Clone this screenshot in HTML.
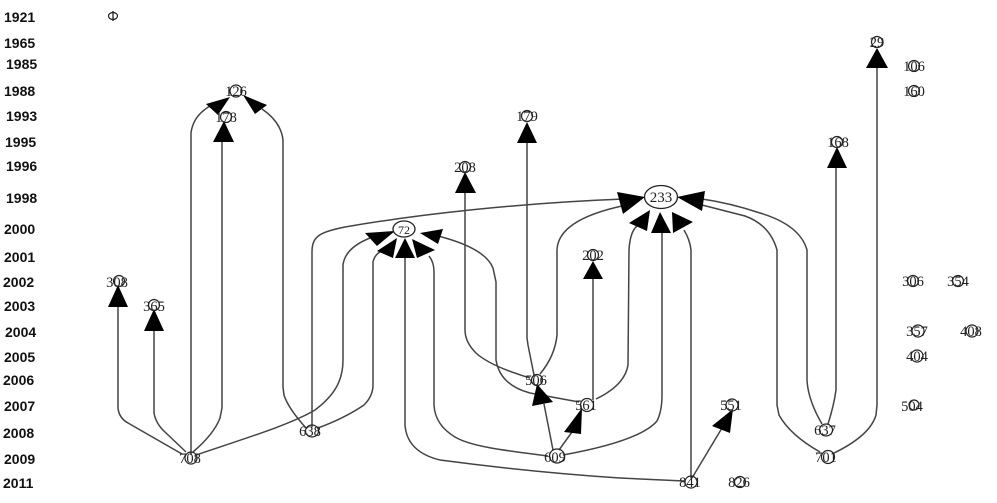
<!DOCTYPE html>
<html><head><meta charset="utf-8"><style>
html,body{margin:0;padding:0;background:#fff;}
svg{display:block;}
.yr{font-family:"Liberation Sans",Arial,sans-serif;font-weight:bold;font-size:14px;fill:#111;}
.lb{font-family:"Liberation Serif","Times New Roman",serif;font-size:14.5px;fill:#222;text-anchor:middle;}
.e{fill:none;stroke:#444;stroke-width:1.5;}
.a{fill:#000;stroke:none;}
.n{fill:none;stroke:#222;stroke-width:1.2;}
</style></head><body>
<svg width="997" height="503" viewBox="0 0 997 503" xmlns="http://www.w3.org/2000/svg">
<!-- year labels -->
<text class="yr" x="4" y="22">1921</text>
<text class="yr" x="4" y="48">1965</text>
<text class="yr" x="6" y="69">1985</text>
<text class="yr" x="4" y="96">1988</text>
<text class="yr" x="6" y="121">1993</text>
<text class="yr" x="5" y="147">1995</text>
<text class="yr" x="6" y="171">1996</text>
<text class="yr" x="6" y="203">1998</text>
<text class="yr" x="4" y="234">2000</text>
<text class="yr" x="4" y="262">2001</text>
<text class="yr" x="3" y="287">2002</text>
<text class="yr" x="4" y="311">2003</text>
<text class="yr" x="5" y="337">2004</text>
<text class="yr" x="4" y="362">2005</text>
<text class="yr" x="3" y="385">2006</text>
<text class="yr" x="4" y="411">2007</text>
<text class="yr" x="3" y="438">2008</text>
<text class="yr" x="4" y="464">2009</text>
<text class="yr" x="3" y="488">2011</text>

<!-- edges -->
<path class="e" d="M182 454 L128 423 Q119 418 118 408 L118 306"/>
<polygon class="a" points="118,285 108,307 128,307"/>
<path class="e" d="M186 452 L165 432 Q156 424 154 413 L154 330"/>
<polygon class="a" points="154,309 144,331 164,331"/>
<path class="e" d="M191 455 L191 133 Q193 116 210 106"/>
<polygon class="a" points="230,97 206,104 218,115"/>
<path class="e" d="M193 452 Q214 434 220 418 L222 408 L222 141"/>
<polygon class="a" points="224,121 213,142 234,142"/>
<path class="e" d="M306 428 Q288 408 284 395 L283 387 L283 140 Q281 122 262 109"/>
<polygon class="a" points="243,95 267,105 255,114"/>
<path class="e" d="M312 427 L312 252 C312 236 320 232 345 227 C420 214 520 203 624 199"/>
<path class="e" d="M196 455 C240 440 290 425 315 410 C335 395 343 380 343 360 L343 265 Q345 248 370 238"/>
<path class="e" d="M318 428 Q345 418 364 405 Q373 396 373 385 L373 262 Q375 253 384 250"/>
<path class="e" d="M684 481 L620 478 C560 474 500 468 440 460 Q407 452 405 425 L405 257"/>
<path class="e" d="M548 456 C500 450 470 446 455 437 Q435 425 434 405 L434 272 Q434 262 429 256"/>
<path class="e" d="M438 236 Q485 248 493 268 L496 282 L496 360 Q500 385 530 393 L579 402"/>
<polygon class="a" points="395,231 365,233 377,246"/>
<polygon class="a" points="397,238 377,251 393,258"/>
<polygon class="a" points="405,238 395,258 415,258"/>
<polygon class="a" points="412,239 417,258 435,250"/>
<polygon class="a" points="420,233 443,229 438,244"/>
<path class="e" d="M530 378 Q490 366 476 353 Q465 342 465 330 L465 191"/>
<polygon class="a" points="465,172 455,193 476,193"/>
<path class="e" d="M534 375 L528 345 L527 338 L527 141"/>
<polygon class="a" points="527,122 517,143 537,143"/>
<path class="e" d="M540 374 Q555 356 557 335 L557 250 Q558 220 622 206"/>
<path class="e" d="M593 400 L593 277"/>
<polygon class="a" points="593,261 583,279 603,279"/>
<path class="e" d="M596 399 Q625 385 628 365 L629 250 Q630 232 637 226"/>
<path class="e" d="M563 455 Q640 441 657 421 Q662 411 662 395 L662 231"/>
<path class="e" d="M691 478 L691 250 Q690 240 684 230"/>
<path class="e" d="M822 424 Q808 400 807 380 L807 250 Q800 225 760 213 Q730 203 702 199"/>
<path class="e" d="M820 452 Q790 435 779 415 L777 405 L777 250 Q770 225 745 216 L702 205"/>
<polygon class="a" points="645,197 617,192 623,214"/>
<polygon class="a" points="650,210 629,223 647,231"/>
<polygon class="a" points="660,212 651,233 671,233"/>
<polygon class="a" points="672,212 673,233 693,222"/>
<polygon class="a" points="677,197 705,191 702,211"/>
<path class="e" d="M828 424 Q834 405 836 390 L836 166"/>
<polygon class="a" points="837,147 827,168 847,168"/>
<path class="e" d="M832 454 Q870 436 876 415 L877 405 L877 66"/>
<polygon class="a" points="877,48 866,68 888,68"/>
<path class="e" d="M692 478 L722 428"/>
<polygon class="a" points="733,409 712,426 730,433"/>
<path class="e" d="M553 450 L544 404"/>
<polygon class="a" points="537,384 532,406 553,402"/>
<path class="e" d="M559 450 L572 432"/>
<polygon class="a" points="582,408 564,432 581,434"/>

<!-- nodes -->
<ellipse class="n" cx="113" cy="16" rx="4.5" ry="3.5"/><line x1="113" y1="11" x2="113" y2="21" stroke="#222" stroke-width="1.3"/>

<ellipse cx="661" cy="197" rx="16.5" ry="11.5" fill="#fff" stroke="#222" stroke-width="1.3"/>
<text class="lb" x="661" y="202" style="font-size:15px">233</text>

<ellipse cx="404" cy="229" rx="11" ry="8" fill="#fff" stroke="#222" stroke-width="1.3"/>
<text class="lb" x="404" y="234" style="font-size:12px">72</text>

<g>
<text class="lb" x="236" y="96">126</text><ellipse class="n" cx="236" cy="91" rx="6" ry="6"/>
<text class="lb" x="226" y="122">178</text><ellipse class="n" cx="226" cy="117" rx="5.5" ry="5.5"/>
<text class="lb" x="877" y="47">29</text><ellipse class="n" cx="877" cy="42" rx="5.5" ry="5.5"/>
<text class="lb" x="914" y="71">106</text><ellipse class="n" cx="914" cy="66" rx="5.5" ry="5.5"/>
<text class="lb" x="914" y="96">160</text><ellipse class="n" cx="914" cy="91" rx="5.5" ry="5.5"/>
<text class="lb" x="838" y="147">168</text><ellipse class="n" cx="837" cy="142" rx="5.5" ry="5.5"/>
<text class="lb" x="527" y="121">179</text><ellipse class="n" cx="527" cy="116" rx="5.5" ry="5.5"/>
<text class="lb" x="465" y="172">208</text><ellipse class="n" cx="465" cy="167" rx="5.5" ry="5.5"/>
<text class="lb" x="593" y="260">202</text><ellipse class="n" cx="593" cy="255" rx="5.5" ry="5.5"/>
<text class="lb" x="117" y="287">308</text><ellipse class="n" cx="119" cy="281" rx="5.5" ry="5.5"/>
<text class="lb" x="154" y="311">365</text><ellipse class="n" cx="154" cy="305" rx="5.5" ry="5.5"/>
<text class="lb" x="913" y="286">306</text><ellipse class="n" cx="913" cy="281" rx="5.5" ry="5.5"/>
<text class="lb" x="958" y="286">354</text><ellipse class="n" cx="958" cy="281" rx="5.5" ry="5.5"/>
<text class="lb" x="917" y="336">357</text><ellipse class="n" cx="918" cy="331" rx="6" ry="6"/>
<text class="lb" x="971" y="336">408</text><ellipse class="n" cx="972" cy="331" rx="6" ry="6"/>
<text class="lb" x="917" y="361">404</text><ellipse class="n" cx="917" cy="356" rx="6" ry="6"/>
<text class="lb" x="912" y="411">504</text><ellipse class="n" cx="914" cy="405" rx="5" ry="5"/>
<text class="lb" x="536" y="385">506</text><ellipse class="n" cx="537" cy="380" rx="5.5" ry="5.5"/>
<text class="lb" x="586" y="410">561</text><ellipse class="n" cx="587" cy="405" rx="6.5" ry="6.5"/>
<text class="lb" x="731" y="410">551</text><ellipse class="n" cx="732" cy="405" rx="6" ry="6"/>
<text class="lb" x="555" y="462">609</text><ellipse class="n" cx="557" cy="456" rx="7.5" ry="7"/>
<text class="lb" x="690" y="487">841</text><ellipse class="n" cx="691" cy="482" rx="6" ry="6"/>
<text class="lb" x="739" y="487">826</text><ellipse class="n" cx="740" cy="482" rx="5.5" ry="5.5"/>
<text class="lb" x="310" y="436">638</text><ellipse class="n" cx="312" cy="431" rx="6.5" ry="6"/>
<text class="lb" x="190" y="463">708</text><ellipse class="n" cx="191" cy="458" rx="6" ry="6"/>
<text class="lb" x="825" y="435">637</text><ellipse class="n" cx="826" cy="430" rx="6.5" ry="6"/>
<text class="lb" x="826" y="462">701</text><ellipse class="n" cx="828" cy="457" rx="6.5" ry="6.5"/>
</g>
</svg>
</body></html>
